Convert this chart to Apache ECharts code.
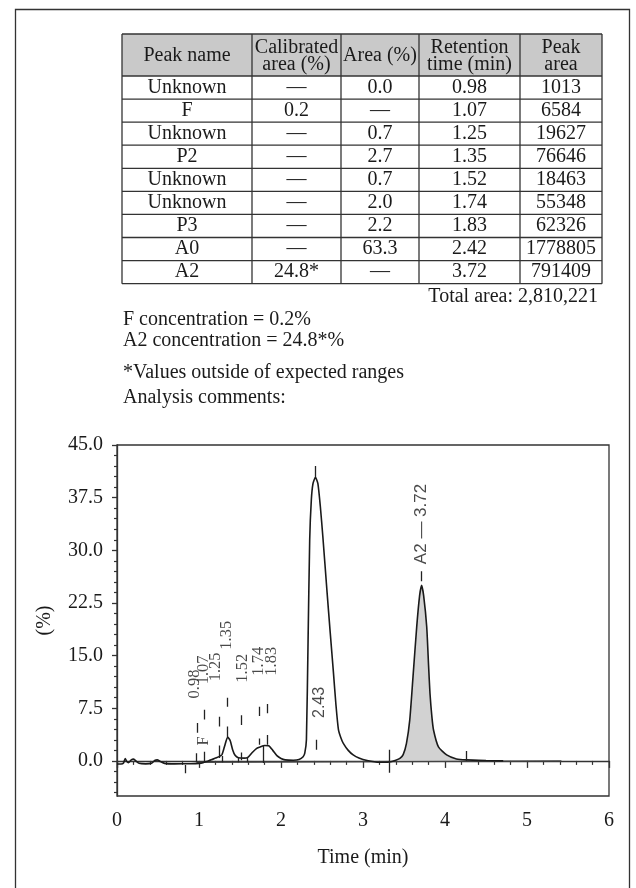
<!DOCTYPE html>
<html><head><meta charset="utf-8">
<script src="https://cdn.jsdelivr.net/npm/echarts@6/dist/echarts.min.js"></script>
<style>html,body{margin:0;padding:0;background:#fff}#c{width:636px;height:888px}</style>
</head><body><div id="c"></div>
<script>
// ---------- data ----------
const tableHeaders = ['Peak name', 'Calibrated\narea (%)', 'Area (%)', 'Retention\ntime (min)', 'Peak\narea'];
const peakNames = ['Unknown', 'F', 'Unknown', 'P2', 'Unknown', 'Unknown', 'P3', 'A0', 'A2'];
const calibratedArea = ['—', '0.2', '—', '—', '—', '—', '—', '—', '24.8*'];
const areaPercent = ['0.0', '—', '0.7', '2.7', '0.7', '2.0', '2.2', '63.3', '—'];
const retentionTime = ['0.98', '1.07', '1.25', '1.35', '1.52', '1.74', '1.83', '2.42', '3.72'];
const peakArea = ['1013', '6584', '19627', '76646', '18463', '55348', '62326', '1778805', '791409'];
const totalAreaText = 'Total area: 2,810,221';
const noteLines = ['F concentration = 0.2%', 'A2 concentration = 24.8*%', '*Values outside of expected ranges', 'Analysis comments:'];

const xTicks = [0, 1, 2, 3, 4, 5, 6];
const yTickLabels = [0, 7.5, 15, 22.5, 30, 37.5, 45];

// chromatogram trace (time min, signal %)
const traceTime = [0.00, 0.05, 0.08, 0.10, 0.12, 0.14, 0.17, 0.20, 0.23, 0.27, 0.35, 0.42, 0.46, 0.49, 0.53, 0.58, 0.70, 0.90, 1.00, 1.05, 1.10, 1.15, 1.20, 1.25, 1.28, 1.31, 1.35, 1.38, 1.41, 1.44, 1.48, 1.55, 1.60, 1.65, 1.70, 1.74, 1.80, 1.85, 1.90, 1.95, 2.00, 2.05, 2.15, 2.22, 2.27, 2.29, 2.31, 2.33, 2.35, 2.37, 2.39, 2.42, 2.45, 2.48, 2.51, 2.56, 2.60, 2.64, 2.67, 2.70, 2.73, 2.76, 2.82, 2.88, 2.95, 3.05, 3.20, 3.32, 3.40, 3.45, 3.49, 3.53, 3.57, 3.61, 3.655, 3.69, 3.715, 3.74, 3.777, 3.80, 3.817, 3.84, 3.86, 3.92, 4.02, 4.14, 4.26, 4.50, 4.71];
const traceSignal = [-0.45, -0.45, -0.3, 0.35, -0.1, -0.25, 0.1, 0.25, 0.0, -0.35, -0.42, -0.35, 0.05, 0.15, -0.1, -0.35, -0.42, -0.4, -0.35, -0.25, -0.05, 0.15, 0.4, 0.65, 0.9, 2.0, 3.4, 2.9, 1.6, 0.8, 0.45, 0.4, 0.55, 1.2, 1.75, 1.95, 2.2, 2.15, 1.5, 0.75, 0.35, 0.15, 0.1, 0.2, 0.6, 1.1, 3.0, 17.0, 31.5, 37.2, 39.5, 40.4, 39.5, 36.2, 32.0, 24.3, 18.3, 12.5, 8.0, 4.5, 3.3, 2.5, 1.5, 0.85, 0.4, 0.05, -0.2, -0.15, 0.1, 0.35, 0.9, 2.5, 5.8, 12.0, 19.1, 23.5, 25.0, 23.5, 19.1, 13.5, 9.6, 6.3, 4.4, 2.0, 0.85, 0.28, 0.14, 0.05, 0.0];

const baselineTime = [0.97, 5.42];
const baselineSignal = [-0.2, 0.0];
const shadeFrom = 3.32, shadeTo = 4.26;

// integration / peak marker dashes: time, low, high
const markTime = [0.98, 1.07, 1.25, 1.35, 1.52, 1.74, 1.83, 2.435, 3.715, 0.83, 0.97, 1.065, 1.25, 1.28, 1.35, 1.48, 1.51, 1.59, 1.735, 1.785, 1.835, 3.32, 4.255, 2.42];
const markLow  = [4.0, 5.9, 4.9, 7.7, 5.1, 6.4, 6.8, 1.6, 25.6, -1.75, -0.2, 0.0, 0.4, -0.2, 3.4, -0.2, 0.1, -0.2, 2.3, -0.3, 2.3, -1.7, 0.0, 40.4];
const markHigh = [5.4, 7.3, 6.3, 9.0, 6.5, 7.7, 8.1, 3.0, 27.0, -0.6, 1.1, 1.3, 2.2, 0.7, 4.9, 0.45, 1.2, 0.5, 3.2, 2.2, 3.7, 1.6, 1.4, 42.0];

// peak labels
const peakLabelText = ['0.98', '1.07', '1.25', '1.35', '1.52', '1.74', '1.83', 'F'];
const peakLabelTime = [0.946, 1.06, 1.205, 1.337, 1.537, 1.73, 1.89, 1.055];
const peakLabelLevel = [10.95, 12.96, 13.4, 17.9, 13.2, 14.2, 14.2, 2.85];
const bigLabelText = ['2.43', 'A2 — 3.72'];
const bigLabelTime = [2.475, 3.715];
const bigLabelLevel = [8.33, 33.75];

// ---------- build ----------
const SERIF = "'Liberation Serif','DejaVu Serif',serif";
const SANS = "'Liberation Sans','DejaVu Sans',sans-serif";
const INK = '#1a1a1a';

const colX = [122, 252, 341, 419, 520, 602];
const headTop = 34, headBottom = 76, rowH = 23.07;
const tableBottom = headBottom + rowH * peakNames.length;
const g = [];
g.push({type: 'rect', shape: {x: 15.5, y: 9.5, width: 614, height: 900}, style: {fill: 'none', stroke: '#333', lineWidth: 1.3}});
g.push({type: 'rect', shape: {x: colX[0], y: headTop, width: colX[5] - colX[0], height: headBottom - headTop}, style: {fill: '#c9c9c9'}});
g.push({type: 'line', shape: {x1: colX[0], y1: headTop, x2: colX[5], y2: headTop}, style: {stroke: '#333', lineWidth: 1.6}});
for (let i = 0; i <= peakNames.length; i++) {
  const y = headBottom + i * rowH;
  g.push({type: 'line', shape: {x1: colX[0], y1: y, x2: colX[5], y2: y}, style: {stroke: '#333', lineWidth: 1.3}});
}
colX.forEach(x => g.push({type: 'line', shape: {x1: x, y1: headTop, x2: x, y2: tableBottom}, style: {stroke: '#333', lineWidth: 1.3}}));
tableHeaders.forEach((h, j) => {
  g.push({type: 'text', style: {text: h, x: (colX[j] + colX[j + 1]) / 2, y: (headTop + headBottom) / 2 + 1, align: 'center', verticalAlign: 'middle', fontFamily: SERIF, fontSize: 20, lineHeight: 17, fill: INK}});
});
const cols = [peakNames, calibratedArea, areaPercent, retentionTime, peakArea];
cols.forEach((col, j) => col.forEach((v, i) => {
  g.push({type: 'text', style: {text: v, x: (colX[j] + colX[j + 1]) / 2, y: headBottom + rowH * (i + 0.5), align: 'center', verticalAlign: 'middle', fontFamily: SERIF, fontSize: 20, fill: INK}});
}));
g.push({type: 'text', style: {text: totalAreaText, x: 598, y: 297, align: 'right', verticalAlign: 'middle', fontFamily: SERIF, fontSize: 20, fill: INK}});
const noteY = [320, 341, 373, 398];
noteLines.forEach((t, i) => g.push({type: 'text', style: {text: t, x: 123, y: noteY[i], align: 'left', verticalAlign: 'middle', fontFamily: SERIF, fontSize: 20, fill: INK}}));

const tracePts = traceTime.map((t, i) => [t, traceSignal[i]]);
const shadePts = tracePts.filter(p => p[0] >= shadeFrom && p[0] <= shadeTo);
const basePts = baselineTime.map((t, i) => [t, baselineSignal[i]]);
const markData = markTime.map((t, i) => ({coords: [[t, markLow[i]], [t, markHigh[i]]]}));
const yMinor = [];
for (let v = -4.5; v <= 45.01; v += 1.5) { const r = Math.round(v * 10) / 10; if (!yTickLabels.includes(r)) yMinor.push(r); }

const labelData = peakLabelText.map((t, i) => ({name: t, value: [peakLabelTime[i], peakLabelLevel[i]]}));
bigLabelText.forEach((t, i) => labelData.push({name: t, value: [bigLabelTime[i], bigLabelLevel[i]], label: {fontFamily: SANS, fontSize: i === 0 ? 16 : 17}}));

const axisLineStyle = {color: '#333', width: 1.3};
const option = {
  animation: false,
  graphic: g,
  grid: {left: 117, right: 27, top: 445, bottom: 92, show: true, borderColor: '#333', borderWidth: 1.3},
  xAxis: {
    type: 'value', min: 0, max: 6, interval: 1,
    name: 'Time (min)', nameLocation: 'middle', nameGap: 52,
    nameTextStyle: {fontFamily: SERIF, fontSize: 20, color: INK},
    axisLine: {lineStyle: axisLineStyle},
    axisTick: {length: 7, lineStyle: axisLineStyle},
    minorTick: {show: true, splitNumber: 5, length: 4, lineStyle: {color: '#333', width: 1.2}},
    axisLabel: {fontFamily: SERIF, fontSize: 20, color: INK, margin: 15, customValues: xTicks},
    splitLine: {show: false}, minorSplitLine: {show: false}
  },
  yAxis: [{
    type: 'value', min: -5, max: 45,
    name: '(%)', nameLocation: 'middle', nameGap: 62,
    nameTextStyle: {fontFamily: SERIF, fontSize: 20, color: INK},
    axisLine: {show: true, lineStyle: axisLineStyle},
    axisTick: {show: true, length: 5, lineStyle: axisLineStyle, customValues: yTickLabels},
    axisLabel: {fontFamily: SERIF, fontSize: 20, color: INK, margin: 14, customValues: yTickLabels, formatter: v => v.toFixed(1)},
    splitLine: {show: false}
  }, {
    type: 'value', min: -5, max: 45, position: 'left',
    axisLine: {show: false}, axisLabel: {show: false}, splitLine: {show: false},
    axisTick: {show: true, length: 3, lineStyle: {color: '#333', width: 1.2}, customValues: yMinor}
  }],
  series: [
    {type: 'line', data: shadePts, showSymbol: false, symbol: 'none', smooth: 0.2, lineStyle: {width: 0}, areaStyle: {color: '#d2d2d2', opacity: 1}, z: 1, silent: true},
    {type: 'line', data: basePts, showSymbol: false, symbol: 'none', lineStyle: {color: '#444', width: 1.3}, z: 2, silent: true},
    {type: 'line', data: tracePts, showSymbol: false, symbol: 'none', smooth: 0.2, lineStyle: {color: INK, width: 1.6}, z: 3, silent: true},
    {type: 'lines', coordinateSystem: 'cartesian2d', data: markData, lineStyle: {color: '#222', width: 1.3, opacity: 1}, z: 4, silent: true},
    {type: 'scatter', data: labelData, symbolSize: 1, itemStyle: {color: 'rgba(0,0,0,0)'}, z: 5, silent: true,
     label: {show: true, position: 'inside', rotate: 90, formatter: '{b}', fontFamily: SERIF, fontSize: 16.5, color: INK}}
  ]
};
const chart = echarts.init(document.getElementById('c'));
chart.setOption(option);
</script>
</body></html>
